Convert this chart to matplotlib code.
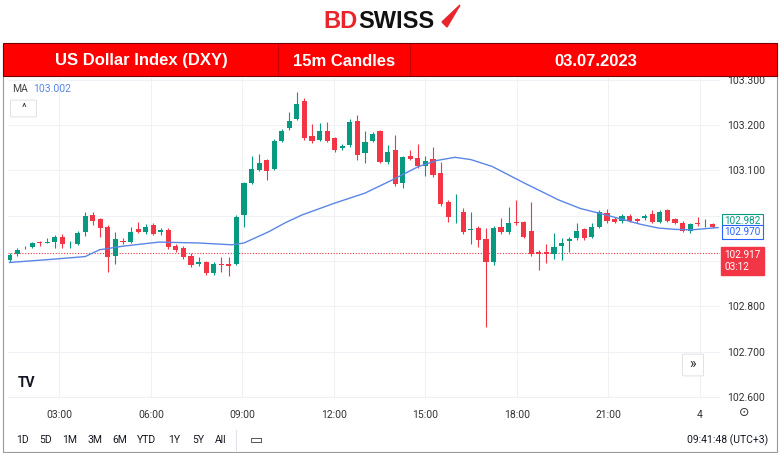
import matplotlib
matplotlib.use("Agg")
import matplotlib.pyplot as plt
from matplotlib.patches import Rectangle, FancyBboxPatch, Polygon
from matplotlib.lines import Line2D

plt.rcParams['font.family'] = ['Roboto', 'DejaVu Sans']

# 15m candles, 03.07.2023 ~01:30 -> 00:45
opens = [102.903, 102.916, 102.928, 102.931, 102.943, 102.941, 102.942, 102.954, 102.937, 102.938,
         102.965, 103.001, 102.992, 102.976, 102.912, 102.945, 102.942, 102.970, 102.964, 102.980,
         102.964, 102.969, 102.934, 102.930, 102.911, 102.893, 102.897, 102.873, 102.894, 102.894,
         102.894, 103.002, 103.073, 103.101, 103.122, 103.103, 103.166, 103.193, 103.214, 103.254,
         103.176, 103.168, 103.188, 103.171, 103.149, 103.157, 103.209, 103.138, 103.166, 103.186,
         103.118, 103.145, 103.073, 103.133, 103.127, 103.109, 103.126, 103.094, 103.030, 103.003,
         103.008, 102.969, 102.973, 102.949, 102.898, 102.976, 102.965, 102.987, 102.987, 102.967,
         102.920, 102.920, 102.916, 102.934, 102.945, 102.950, 102.970, 102.954, 102.976, 103.007,
         102.992, 102.989, 103.000, 102.992, 102.995, 103.003, 102.987, 103.012, 102.992, 102.985,
         102.967, 102.985, 102.979, 102.981]
closes = [102.914, 102.925, 102.930, 102.939, 102.939, 102.942, 102.953, 102.937, 102.938, 102.962,
          103.000, 102.989, 102.974, 102.908, 102.948, 102.942, 102.965, 102.965, 102.976, 102.960,
          102.969, 102.931, 102.925, 102.909, 102.891, 102.897, 102.873, 102.894, 102.891, 102.889,
          102.998, 103.072, 103.104, 103.116, 103.099, 103.164, 103.188, 103.210, 103.247, 103.171,
          103.165, 103.186, 103.165, 103.145, 103.154, 103.207, 103.134, 103.162, 103.180, 103.118,
          103.140, 103.070, 103.129, 103.126, 103.109, 103.121, 103.090, 103.026, 102.998, 103.004,
          102.965, 102.970, 102.947, 102.897, 102.974, 102.964, 102.984, 102.984, 102.954, 102.916,
          102.916, 102.916, 102.932, 102.939, 102.949, 102.967, 102.950, 102.976, 103.009, 102.989,
          102.986, 103.000, 102.989, 102.989, 103.000, 102.986, 103.008, 102.989, 102.985, 102.967,
          102.982, 102.982, 102.980, 102.976]
highs = [102.918, 102.929, 102.933, 102.942, 102.945, 102.950, 102.958, 102.960, 102.945, 102.966,
         103.009, 103.009, 102.996, 102.980, 102.965, 102.950, 102.976, 102.987, 102.981, 102.984,
         102.973, 102.973, 102.937, 102.933, 102.919, 102.908, 102.900, 102.897, 102.910, 102.910,
         103.002, 103.075, 103.131, 103.137, 103.125, 103.169, 103.192, 103.230, 103.273, 103.260,
         103.202, 103.205, 103.206, 103.174, 103.159, 103.213, 103.223, 103.186, 103.185, 103.190,
         103.157, 103.179, 103.133, 103.146, 103.158, 103.131, 103.151, 103.118, 103.034, 103.048,
         103.017, 103.009, 102.977, 102.973, 102.978, 102.995, 103.020, 103.035, 102.989, 103.031,
         102.924, 102.937, 102.961, 102.950, 102.953, 102.984, 102.974, 102.984, 103.012, 103.015,
         102.998, 103.004, 103.003, 102.995, 103.004, 103.013, 103.012, 103.014, 102.995, 102.988,
         102.985, 102.998, 102.992, 102.984]
lows = [102.898, 102.912, 102.926, 102.929, 102.934, 102.939, 102.930, 102.928, 102.930, 102.935,
        102.955, 102.980, 102.954, 102.877, 102.894, 102.938, 102.939, 102.962, 102.960, 102.957,
        102.958, 102.927, 102.920, 102.905, 102.888, 102.889, 102.869, 102.870, 102.877, 102.868,
        102.892, 102.975, 103.070, 103.098, 103.078, 103.100, 103.163, 103.190, 103.212, 103.168,
        103.160, 103.165, 103.162, 103.140, 103.146, 103.152, 103.123, 103.117, 103.163, 103.116,
        103.115, 103.066, 103.061, 103.122, 103.105, 103.087, 103.085, 103.022, 102.987, 102.984,
        102.960, 102.938, 102.932, 102.754, 102.892, 102.960, 102.959, 102.980, 102.950, 102.912,
        102.881, 102.895, 102.904, 102.903, 102.921, 102.946, 102.946, 102.950, 102.972, 102.985,
        102.983, 102.985, 102.986, 102.985, 102.991, 102.983, 102.983, 102.986, 102.981, 102.964,
        102.963, 102.978, 102.975, 102.973]

# moving average (candle index, value)
ma_idx = [0, 5.6, 10, 11.9, 15, 19.8, 25, 29.4, 31, 34.3, 36.5, 38.7, 43, 47, 50.6, 54, 56.5, 58.9,
          61, 63.8, 68.1, 72.6, 75.5, 77.9, 81.3, 83.5, 85.8, 88, 90.2, 93.7]
ma_val = [102.897, 102.904, 102.910, 102.925, 102.933, 102.942, 102.940, 102.936, 102.940, 102.965,
          102.985, 103.002, 103.028, 103.050, 103.079, 103.108, 103.122, 103.129, 103.124, 103.109,
          103.072, 103.035, 103.016, 103.006, 102.991, 102.981, 102.973, 102.970, 102.969, 102.974]

time_labels = ["03:00", "06:00", "09:00", "12:00", "15:00", "18:00", "21:00", "4"]
price_ticks = [102.6, 102.7, 102.8, 102.9, 103.0, 103.1, 103.2, 103.3]
hidden_ticks = [102.9, 103.0]   # covered by the price boxes
last_price = 102.917

GREEN = "#089981"
RED = "#f23645"
W, H = 780, 453

fig = plt.figure(figsize=(7.8, 4.53), dpi=100)
fig.patch.set_facecolor("white")

def fx(x):
    return x / W

def fy(y):
    return 1 - y / H

# logo
fig.text(fx(358), fy(21), "BD", color="#e8242c", fontsize=17, fontweight="bold", ha="right", va="center",
         family=['Liberation Sans', 'DejaVu Sans'])
fig.text(fx(358), fy(21), "SWISS", color="#111111", fontsize=17, fontweight="bold", ha="left", va="center",
         family=['Liberation Sans', 'DejaVu Sans'])
fig.patches.append(Polygon([[fx(442), fy(22)], [fx(460), fy(5)], [fx(447), fy(27)]],
                           closed=True, color="#e8242c", transform=fig.transFigure))

# outer frame and banner
fig.patches.append(Rectangle((fx(3), fy(452)), fx(774), fy(44) - fy(452), fill=False,
                             edgecolor="#999999", lw=0.8, transform=fig.transFigure))
fig.patches.append(Rectangle((fx(3), fy(76)), fx(774), fy(43) - fy(76), facecolor="#ff0000",
                             edgecolor="#7a0000", lw=0.8, transform=fig.transFigure))
for xd in [278, 410]:
    fig.lines.append(Line2D([fx(xd), fx(xd)], [fy(44), fy(75)], color="#cc0000",
                            lw=0.8, transform=fig.transFigure))
banner_font = ['Liberation Sans', 'DejaVu Sans']
for xt, s in [(141, "US Dollar Index (DXY)"), (344, "15m Candles"), (596, "03.07.2023")]:
    fig.text(fx(xt), fy(61), s, color="white", fontsize=12, fontweight="bold", ha="center",
             va="center", family=banner_font)

# chart axes
x0, x1, y0, y1 = 8, 720, 78, 398
ax = fig.add_axes([fx(x0), fy(y1), fx(x1 - x0), fy(y0) - fy(y1)])
n = len(opens)
ax.set_xlim(-0.2, 93.95)
ax.set_ylim(102.598, 103.304)

for i in range(n):
    col = GREEN if closes[i] >= opens[i] else RED
    ax.vlines(i, lows[i], highs[i], color=col, lw=0.8, zorder=3)
    lo = min(opens[i], closes[i])
    ht = max(abs(closes[i] - opens[i]), 0.0012)
    ax.bar(i, ht, bottom=lo, width=0.68, color=col, zorder=4, lw=0)

ax.plot(ma_idx, ma_val, color="#5b86e5", lw=1.0, zorder=5)
ax.axhline(last_price, color=RED, lw=0.8, ls=(0, (1, 1.5)), zorder=2)

ax.set_yticks(price_ticks)
ax.set_yticklabels(["" if p in hidden_ticks else "%.3f" % p for p in price_ticks])
ax.yaxis.tick_right()
tick_pos = [6.6 + 12.1 * k for k in range(len(time_labels))]
ax.set_xticks(tick_pos)
ax.set_xticklabels(time_labels)
ax.tick_params(axis="both", length=0, labelsize=7.5, labelcolor="#333333")
ax.tick_params(axis="x", pad=9)
ax.tick_params(axis="y", pad=5)
ax.grid(True, color="#f0f1f4", lw=0.8)
ax.set_axisbelow(True)
for s in ax.spines.values():
    s.set_visible(False)

# price label boxes
for val, txt, ec in [(102.9885, "102.982", GREEN), (102.9645, "102.970", "#2962ff")]:
    ax.text(1.006, val, txt, transform=ax.get_yaxis_transform(), fontsize=7.2, color=ec,
            va="center", ha="left", bbox=dict(boxstyle="square,pad=0.2", fc="white", ec=ec, lw=0.8))
ax.text(1.006, last_price - 0.017, "102.917\n03:12", transform=ax.get_yaxis_transform(), fontsize=7.2,
        color="white", va="center", ha="left", linespacing=1.3,
        bbox=dict(boxstyle="square,pad=0.3", fc=RED, ec=RED))

# overlays
fig.text(fx(12), fy(89), "MA", fontsize=7.5, color="#444444", va="center")
fig.text(fx(33), fy(89), "103.002", fontsize=7.5, color="#5b86e5", va="center")
fig.patches.append(FancyBboxPatch((fx(12), fy(116)), fx(23), fy(101) - fy(116),
                                  boxstyle="round,pad=0.002", fc="white", ec="#dddddd", lw=0.6,
                                  transform=fig.transFigure))
fig.text(fx(23.5), fy(108), "^", fontsize=8, color="#333333", ha="center", va="center")
fig.patches.append(FancyBboxPatch((fx(684), fy(375)), fx(18), fy(355) - fy(375),
                                  boxstyle="round,pad=0.002", fc="white", ec="#dddddd", lw=0.6,
                                  transform=fig.transFigure))
fig.text(fx(693), fy(364), "»", fontsize=10, color="#222222", ha="center", va="center")
fig.text(fx(27), fy(383), "TV", fontsize=10, fontweight="bold", color="#131722", ha="center", va="center")
fig.text(fx(744), fy(412), "⊙", fontsize=9, color="#333333", ha="center", va="center")

# bottom toolbar
xpos = [22, 46, 70, 95, 120, 146, 174, 198, 221]
for xb, s in zip(xpos, ["1D", "5D", "1M", "3M", "6M", "YTD", "1Y", "5Y", "All"]):
    fig.text(fx(xb), fy(440), s, fontsize=7.5, color="#131722", ha="center", va="center")
fig.lines.append(Line2D([fx(236), fx(236)], [fy(430), fy(450)], color="#e0e3eb",
                        lw=0.8, transform=fig.transFigure))
fig.text(fx(256), fy(439), "▭", fontsize=10, color="#333333", ha="center", va="center")
fig.text(fx(768), fy(440), "09:41:48 (UTC+3)", fontsize=7.5, color="#131722", ha="right", va="center")

fig.savefig("out.png", dpi=100)
